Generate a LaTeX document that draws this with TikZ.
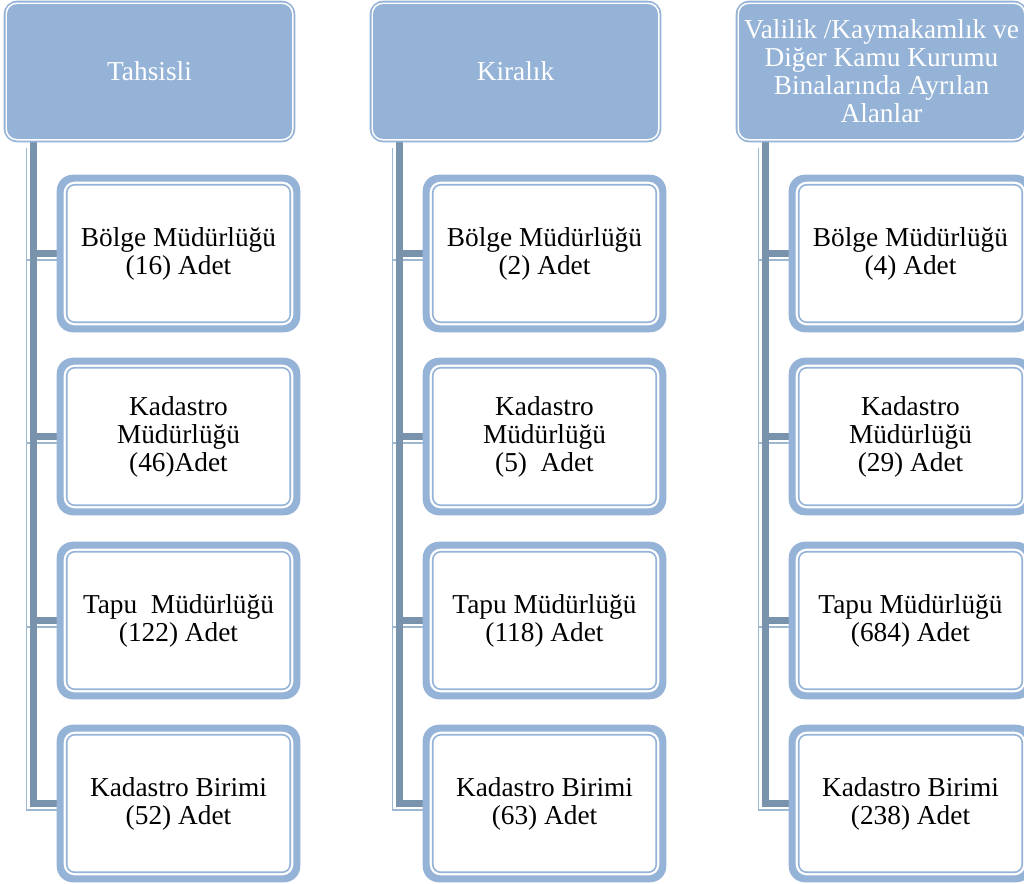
\documentclass[tikz,border=0pt]{standalone}
\usepackage{fontspec}
\setmainfont{Liberation Serif}
\usetikzlibrary{backgrounds,calc}
\definecolor{lb}{HTML}{95B3D7}
\definecolor{cdark}{HTML}{7A93AD}
\definecolor{clight}{HTML}{9FB8D2}
\tikzset{
  hdr/.style={minimum width=218.25pt, minimum height=105.75pt, inner sep=0pt, align=center, text=white, font=\fontsize{20.5}{21}\selectfont},
  child/.style={minimum width=182.25pt, minimum height=117.75pt, inner sep=0pt, align=center, text=black, font=\fontsize{20.5}{21}\selectfont},
  conn/.style={draw=cdark, line width=5pt},
  connshadow/.style={draw=clight, line width=1.1pt},
}
\newcommand\chbox[1]{%
  \fill[lb, rounded corners=12pt] (#1.north west) rectangle (#1.south east);
  \fill[white, rounded corners=8pt] ([shift={(7,7)}]#1.north west) rectangle ([shift={(-7,-7)}]#1.south east);
  \draw[lb, line width=1.2pt, rounded corners=6pt] ([shift={(10,10)}]#1.north west) rectangle ([shift={(-10,-10)}]#1.south east);}
\newcommand\hdrbox[1]{%
  \fill[lb, rounded corners=10pt] (#1.north west) rectangle (#1.south east);
  \draw[white, line width=1.1pt, rounded corners=8pt] ([shift={(2.5,2.5)}]#1.north west) rectangle ([shift={(-2.5,-2.5)}]#1.south east);}
\newcommand\colconn[5]{% bar, c1..c4
  \draw[connshadow] ($(#1)+(-6.5,6)$) |- ($(#5.west)+(0,6.5)$);
  \draw[connshadow] ($(#1 |- #2.west)+(-6.5,6.5)$) -- ($(#2.west)+(0,6.5)$);
  \draw[connshadow] ($(#1 |- #3.west)+(-6.5,6.5)$) -- ($(#3.west)+(0,6.5)$);
  \draw[connshadow] ($(#1 |- #4.west)+(-6.5,6.5)$) -- ($(#4.west)+(0,6.5)$);
  \draw[conn] (#1) |- (#5.west);
  \draw[conn] (#1 |- #2.west) -- (#2.west);
  \draw[conn] (#1 |- #3.west) -- (#3.west);
  \draw[conn] (#1 |- #4.west) -- (#4.west);}
\begin{document}
\begin{tikzpicture}[x=0.75pt,y=-0.75pt]
\clip (0,0) rectangle (1024,883);
% headers
\node[hdr] (h1) at (149.5,71.5) {Tahsisli};
\node[hdr] (h2) at (515.5,71.5) {Kiralık};
\node[hdr] (h3) at (881.5,71.5) {Valilik /Kaymakamlık ve\\Diğer Kamu Kurumu\\Binalarında Ayrılan\\Alanlar};
% column 1
\node[child] (t1) at (178.5,253.5) {Bölge Müdürlüğü\\(16) Adet};
\node[child] (t2) at (178.5,436.5) {Kadastro\\Müdürlüğü\\(46)Adet};
\node[child] (t3) at (178.5,620.5) {Tapu\ \ Müdürlüğü\\(122) Adet};
\node[child] (t4) at (178.5,803.5) {Kadastro Birimi\\(52) Adet};
% column 2
\node[child] (r1) at (544.5,253.5) {Bölge Müdürlüğü\\(2) Adet};
\node[child] (r2) at (544.5,436.5) {Kadastro\\Müdürlüğü\\(5)\ \ Adet};
\node[child] (r3) at (544.5,620.5) {Tapu Müdürlüğü\\(118) Adet};
\node[child] (r4) at (544.5,803.5) {Kadastro Birimi\\(63) Adet};
% column 3
\node[child] (v1) at (910.5,253.5) {Bölge Müdürlüğü\\(4) Adet};
\node[child] (v2) at (910.5,436.5) {Kadastro\\Müdürlüğü\\(29) Adet};
\node[child] (v3) at (910.5,620.5) {Tapu Müdürlüğü\\(684) Adet};
\node[child] (v4) at (910.5,803.5) {Kadastro Birimi\\(238) Adet};
% bar tops
\coordinate (bt) at ($(h1.south west)+(29.5,0)$);
\coordinate (br) at ($(h2.south west)+(29.5,0)$);
\coordinate (bv) at ($(h3.south west)+(29.5,0)$);
\begin{scope}[on background layer]
  \fill[white] (0,0) rectangle (1024,883);
  \colconn{bt}{t1}{t2}{t3}{t4}
  \colconn{br}{r1}{r2}{r3}{r4}
  \colconn{bv}{v1}{v2}{v3}{v4}
  \hdrbox{h1}\hdrbox{h2}\hdrbox{h3}
  \chbox{t1}\chbox{t2}\chbox{t3}\chbox{t4}
  \chbox{r1}\chbox{r2}\chbox{r3}\chbox{r4}
  \chbox{v1}\chbox{v2}\chbox{v3}\chbox{v4}
\end{scope}
\end{tikzpicture}
\end{document}
